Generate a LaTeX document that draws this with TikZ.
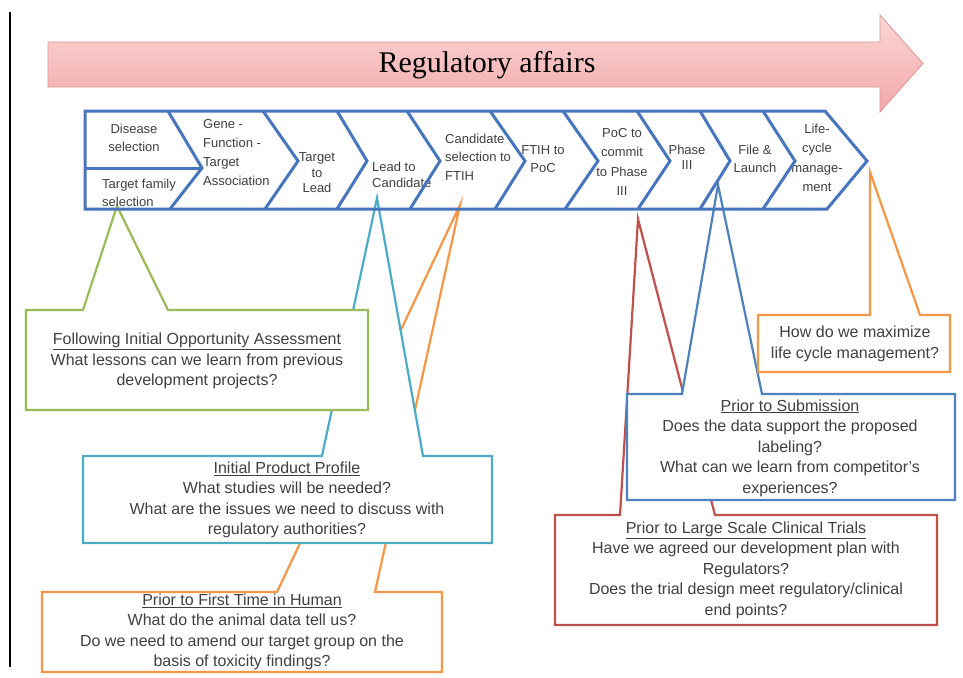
\documentclass[tikz,border=0pt]{standalone}
\usepackage{fontspec}
\setmainfont{Liberation Sans}
\newfontfamily\titlefont{Liberation Serif}
\definecolor{cgreen}{RGB}{155,187,89}
\definecolor{ccyan}{RGB}{75,172,198}
\definecolor{corange}{RGB}{247,150,70}
\definecolor{cblue}{RGB}{79,129,189}
\definecolor{cred}{RGB}{192,80,77}
\definecolor{chevblue}{RGB}{72,118,190}
\definecolor{txtgray}{RGB}{64,64,64}
\definecolor{pinktop}{RGB}{250,214,214}
\definecolor{pinkbot}{RGB}{243,168,168}
\definecolor{pinkline}{RGB}{222,150,150}
\begin{document}
\begin{tikzpicture}[x=1pt,y=-1pt,
  callout/.style={line width=2.2pt, fill=white, line join=miter},
  ctext/.style={font=\fontsize{16}{20.5}\selectfont, text=txtgray, align=center, inner sep=0pt},
  chev/.style={text=txtgray, inner sep=0pt},
  bandline/.style={draw=chevblue, line width=3pt, line join=miter}]
\useasboundingbox[fill=white] (0,0) rectangle (963,677);

% left black rule
\coordinate (rtop) at (10,12);
\coordinate (rbot) at (10,667);
\draw[line width=1.5pt] (rtop) -- (rbot);

% header arrow
\shade[top color=pinktop, bottom color=pinkbot, draw=pinkline, line width=0.8pt]
  (48,42) -- (880,42) -- (880,15) -- (923,63.5) -- (880,112) -- (880,87) -- (48,87) -- cycle;
\node[font=\titlefont\fontsize{30}{30}\selectfont] (title) at (487,65) {Regulatory affairs};

% ---------- callouts (left) ----------
\coordinate (otip) at (460,205);
\draw[callout, draw=corange] (42,592) -- (277,592) -- (otip) -- (375,592) -- (442,592) -- (442,672) -- (42,672) -- cycle;
\node[ctext] (orangeA) at (242,632) {\underline{Prior to First Time in Human}\\What do the animal data tell us?\\Do we need to amend our target group on the\\basis of toxicity findings?};

\coordinate (ctip) at (377,198);
\draw[callout, draw=ccyan] (83,456) -- (322,456) -- (ctip) -- (423,456) -- (492,456) -- (492,543) -- (83,543) -- cycle;
\node[ctext] (cyan) at (287,500) {\underline{Initial Product Profile}\\What studies will be needed?\\What are the issues we need to discuss with\\regulatory authorities?};

\coordinate (gtip) at (117,206);
\draw[callout, draw=cgreen] (26,310) -- (83,310) -- (gtip) -- (168,310) -- (368,310) -- (368,410) -- (26,410) -- cycle;
\node[ctext] (green) at (197,361) {\underline{Following Initial Opportunity Assessment}\\What lessons can we learn from previous\\development projects?};

% ---------- callouts (right) ----------
\coordinate (rtip) at (638,219);
\draw[callout, draw=cred] (555,515) -- (620,515) -- (rtip) -- (715,515) -- (937,515) -- (937,625) -- (555,625) -- cycle;
\node[ctext] (red) at (746,570) {\underline{Prior to Large Scale Clinical Trials}\\Have we agreed our development plan with\\Regulators?\\Does the trial design meet regulatory/clinical\\end points?};

\coordinate (btip) at (718,185);
\draw[callout, draw=cblue] (627,394) -- (682,394) -- (btip) -- (762,394) -- (955,394) -- (955,500) -- (627,500) -- cycle;
\node[ctext] (blue) at (790,448) {\underline{Prior to Submission}\\Does the data support the proposed\\labeling?\\What can we learn from competitor's\\experiences?};

\coordinate (o2tip) at (870,172);
\draw[callout, draw=corange] (758,315) -- (870,315) -- (o2tip) -- (920,315) -- (950,315) -- (950,372) -- (758,372) -- cycle;
\node[ctext] (orangeB) at (855,344) {How do we maximize\\life cycle management?};

% ---------- chevron texts ----------
\node[chev, font=\fontsize{13}{18}\selectfont, align=center] (c1a) at (134,138) {Disease\\selection};
\node[chev, font=\fontsize{13}{18}\selectfont, align=left, anchor=west] (c1b) at (102,193) {Target family\\selection};
\node[chev, font=\fontsize{13}{19}\selectfont, align=left, anchor=west] (c2) at (203,153) {Gene -\\Function -\\Target\\Association};
\node[chev, font=\fontsize{13}{15.5}\selectfont, align=center] (c3) at (317,173) {Target\\to\\Lead};
\node[chev, font=\fontsize{13}{16.5}\selectfont, align=left, anchor=west] (c4) at (372,175) {Lead to\\Candidate};
\node[chev, font=\fontsize{13}{18.5}\selectfont, align=left, anchor=west] (c5) at (445,157) {Candidate\\selection to\\FTIH};
\node[chev, font=\fontsize{13}{18}\selectfont, align=center] (c6) at (543,159) {FTIH to\\PoC};
\node[chev, font=\fontsize{13}{19.3}\selectfont, align=center] (c7) at (622,162) {PoC to\\commit\\to Phase\\III};
\node[chev, font=\fontsize{13}{15}\selectfont, align=center] (c8) at (687,157) {Phase\\III};
\node[chev, font=\fontsize{13}{18}\selectfont, align=center] (c9) at (755,159) {File \&\\Launch};
\node[chev, font=\fontsize{13}{19.5}\selectfont, align=center] (c10) at (817,158) {Life-\\cycle\\manage-\\ment};

% ---------- chevron band ----------
\draw[bandline] (85,111) -- (825,111) -- (867,161) -- (827,209) -- (85,209) -- cycle;
\draw[bandline] (85,168) -- (202,168);
\draw[bandline] (168,111) -- (202,168) -- (170,209);
\draw[bandline] (263,111) -- (298,161) -- (265,209);
\draw[bandline] (337,111) -- (367,161) -- (337,209);
\draw[bandline] (407,111) -- (440,161) -- (410,209);
\draw[bandline] (490,111) -- (525,161) -- (495,209);
\draw[bandline] (563,111) -- (598,161) -- (565,209);
\draw[bandline] (637,111) -- (670,161) -- (638,209);
\draw[bandline] (700,111) -- (730,161) -- (700,209);
\draw[bandline] (763,111) -- (795,161) -- (763,209);
\end{tikzpicture}
\end{document}
